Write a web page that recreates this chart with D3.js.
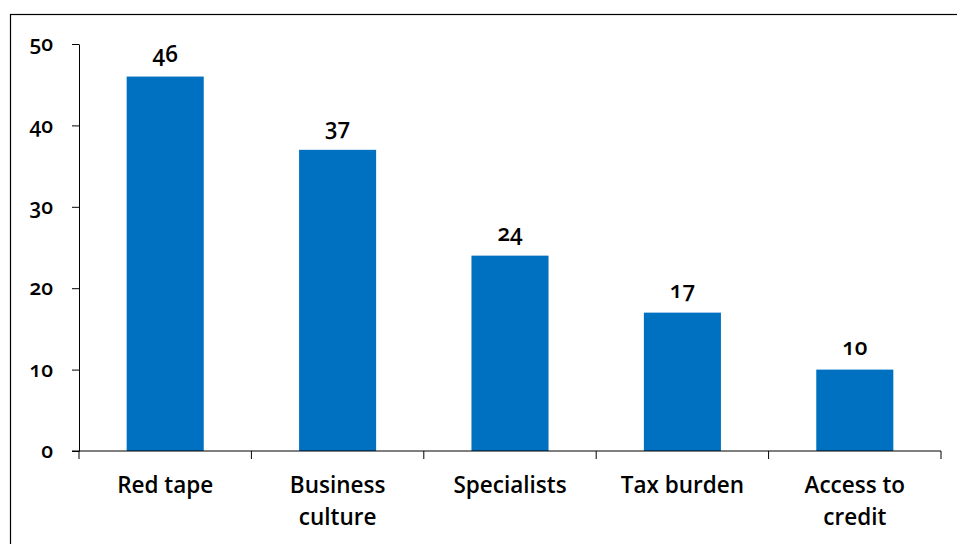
<!DOCTYPE html>
<html>
<head>
<meta charset="utf-8">
<script src="https://cdn.jsdelivr.net/npm/d3@7"></script>
<style>
  html, body { margin: 0; padding: 0; background: #fff; }
  svg { display: block; }
  text { font-family: "Open Sans", Lato, sans-serif; font-weight: 600; fill: #000;
         font-variant-numeric: oldstyle-nums; }
</style>
</head>
<body>
<div id="chart"></div>
<script>
// Obstacles cited, share of respondents
const categories = [["Red tape"], ["Business", "culture"], ["Specialists"], ["Tax burden"], ["Access to", "credit"]];
const values = [46, 37, 24, 17, 10];
const yTicks = [0, 10, 20, 30, 40, 50];

const W = 957, H = 544;
const plot = { left: 79, right: 941, top: 44, bottom: 451 };

const svg = d3.select("#chart").append("svg")
  .attr("width", W).attr("height", H);

// outer frame
svg.append("rect")
  .attr("x", 10.5).attr("y", 14.5)
  .attr("width", W).attr("height", H)
  .attr("fill", "none").attr("stroke", "#000").attr("stroke-width", 1.2);

const x = d3.scaleBand()
  .domain(categories.map((d, i) => i))
  .range([plot.left, plot.right])
  .paddingInner(0.553).paddingOuter(0.2765);

const band = d3.scaleBand()
  .domain(categories.map((d, i) => i))
  .range([plot.left, plot.right]);

const y = d3.scaleLinear().domain([0, 50]).range([plot.bottom, plot.top]);

// y axis
const yAxis = svg.append("g")
  .attr("transform", `translate(${plot.left},0)`)
  .call(d3.axisLeft(y).tickValues(yTicks).tickSize(7).tickSizeOuter(0).tickPadding(19));
yAxis.select(".domain").attr("stroke", "#000");
yAxis.selectAll(".tick line").attr("stroke", "#000");
yAxis.selectAll(".tick text")
  .style("font-size", "21px").attr("fill", "#000");

// bars
svg.append("g").selectAll("rect")
  .data(values)
  .join("rect")
  .attr("x", (d, i) => x(i))
  .attr("width", x.bandwidth())
  .attr("y", d => y(d))
  .attr("height", d => y(0) - y(d))
  .attr("fill", "#0070C0");

// x axis with ticks at category boundaries
const xg = svg.append("g").attr("transform", `translate(0,${plot.bottom})`);
xg.append("line")
  .attr("x1", plot.left).attr("x2", plot.right)
  .attr("stroke", "#000");
const bounds = categories.map((d, i) => band(i)).concat([plot.right]);
xg.selectAll("line.b").data(bounds).join("line").attr("class", "b")
  .attr("x1", d => d).attr("x2", d => d)
  .attr("y1", 0).attr("y2", 8).attr("stroke", "#000");
xg.selectAll("line.y0").data([0]).join("line").attr("class", "y0")
  .attr("x1", plot.left - 7).attr("x2", plot.left).attr("stroke", "#000");

// category labels
const labels = svg.append("g").selectAll("text")
  .data(categories)
  .join("text")
  .attr("x", (d, i) => band(i) + band.bandwidth() / 2)
  .attr("y", 493)
  .attr("text-anchor", "middle")
  .style("font-size", "22.5px");
labels.selectAll("tspan")
  .data(d => d)
  .join("tspan")
  .attr("x", function () { return this.parentNode.getAttribute("x"); })
  .attr("dy", (d, i) => i === 0 ? 0 : 32)
  .text(d => d);

// value labels
svg.append("g").selectAll("text")
  .data(values)
  .join("text")
  .attr("x", (d, i) => x(i) + x.bandwidth() / 2)
  .attr("y", d => y(d) - 15)
  .attr("text-anchor", "middle")
  .style("font-size", "22.5px")
  .text(d => d);
</script>
</body>
</html>
